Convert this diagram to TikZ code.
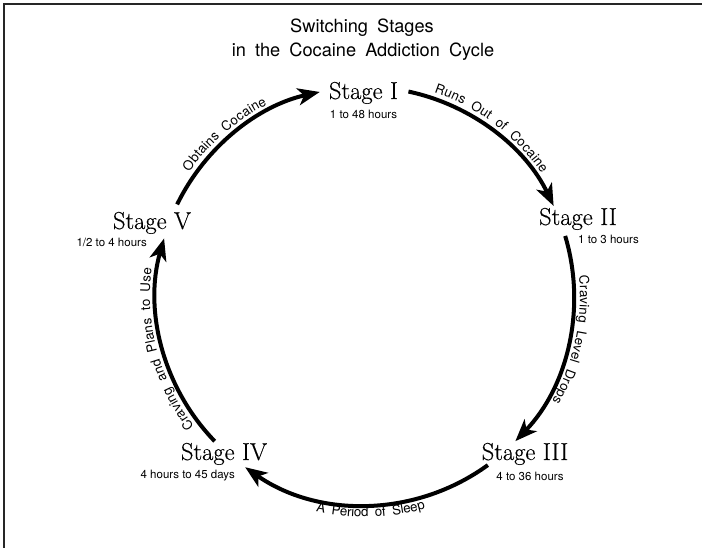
\documentclass[tikz,border=0pt]{standalone}
\usepackage{fontspec}
\usepackage{tikz}
\usetikzlibrary{arrows.meta,decorations.text}
\newfontfamily\sansfont{TeX Gyre Heros}
\newfontfamily\stagefont[FakeBold=0.4]{Latin Modern Roman}
\newcommand{\wgap}{\hspace*{7pt}}
\newcommand{\widespace}{\spaceskip=0.5em plus 0.1em\relax}

\begin{document}
\begin{tikzpicture}[x=1pt,y=1pt,
    title/.style={anchor=base,inner sep=0pt,font={\sansfont\fontsize{18.2}{20}\selectfont}},
    stage/.style={anchor=base,inner sep=0pt,font={\stagefont\fontsize{24.5}{27}\selectfont}},
    hours/.style={anchor=base,inner sep=0pt,font={\sansfont\fontsize{11.5}{13}\selectfont}},
    cyclearrow/.style={line width=4pt,-{Stealth[length=22pt,width=17pt,inset=6pt]}},
    arclabel/.style={decorate,decoration={text along path,text align=center,raise=6pt,
        text={|\sansfont\fontsize{13.3}{15}\selectfont|#1}}}]
    \useasboundingbox (0,0) rectangle (702,548);
    \draw[line width=1.3pt,black!85] (4,0) -- (4,544) -- (702,544);
    \node[title] (ttl1) at (362,515) {\widespace Switching Stages};
    \node[title] (ttl2) at (363,491) {\widespace in the Cocaine Addiction Cycle};
    % stages
    \node[stage] (s1) at (363.5,449) {Stage I};
    \node[hours] (h1) at (363.5,429) {1 to 48 hours};
    \node[stage] (s2) at (578,323) {Stage II};
    \node[hours] (h2) at (608.5,304) {1 to 3 hours};
    \node[stage] (s3) at (525,88) {Stage III};
    \node[hours] (h3) at (530,67) {4 to 36 hours};
    \node[stage] (s4) at (224,88) {Stage IV};
    \node[hours,anchor=base east] (h4) at (235,69) {4 hours to 45 days};
    \node[stage] (s5) at (152,319) {Stage V};
    \node[hours,anchor=base east] (h5) at (147,301) {1/2 to 4 hours};
    % the cycle
    \coordinate (cyc) at (365,252);
    \coordinate (out5) at ([shift={(154:209)}]cyc);
    \coordinate (out1) at ([shift={(78:209)}]cyc);
    \coordinate (out2) at ([shift={(16.7:209)}]cyc);
    \coordinate (out3) at ([shift={(-54:209)}]cyc);
    \coordinate (out4) at ([shift={(-136:209)}]cyc);
    \draw[cyclearrow] (out5) arc[start angle=154,end angle=102.5,radius=209];
    \draw[cyclearrow] (out1) arc[start angle=78,end angle=25.5,radius=209];
    \draw[cyclearrow] (out2) arc[start angle=16.7,end angle=-44,radius=209];
    \draw[cyclearrow] (out3) arc[start angle=-54,end angle=-125,radius=209];
    \draw[cyclearrow] (out4) arc[start angle=-136,end angle=-196,radius=209];
    % labels on the arcs
    \path[arclabel={Obtains{\wgap}Cocaine}] ([shift={(171:209)}]cyc) arc[start angle=171,end angle=91,radius=209];
    \path[arclabel={Runs{\wgap}Out{\wgap}of{\wgap}Cocaine}] ([shift={(93:209)}]cyc) arc[start angle=93,end angle=13,radius=209];
    \path[arclabel={Craving{\wgap}Level{\wgap}Drops}] ([shift={(28:209)}]cyc) arc[start angle=28,end angle=-52,radius=209];
    \path[arclabel={A{\wgap}Period{\wgap}of{\wgap}Sleep}] ([shift={(-128.5:227)}]cyc) arc[start angle=-128.5,end angle=-48.5,radius=227];
    \path[arclabel={Craving{\wgap}and{\wgap}Plans{\wgap}to{\wgap}Use}] ([shift={(235:209)}]cyc) arc[start angle=235,end angle=155,radius=209];
\end{tikzpicture}
\end{document}
